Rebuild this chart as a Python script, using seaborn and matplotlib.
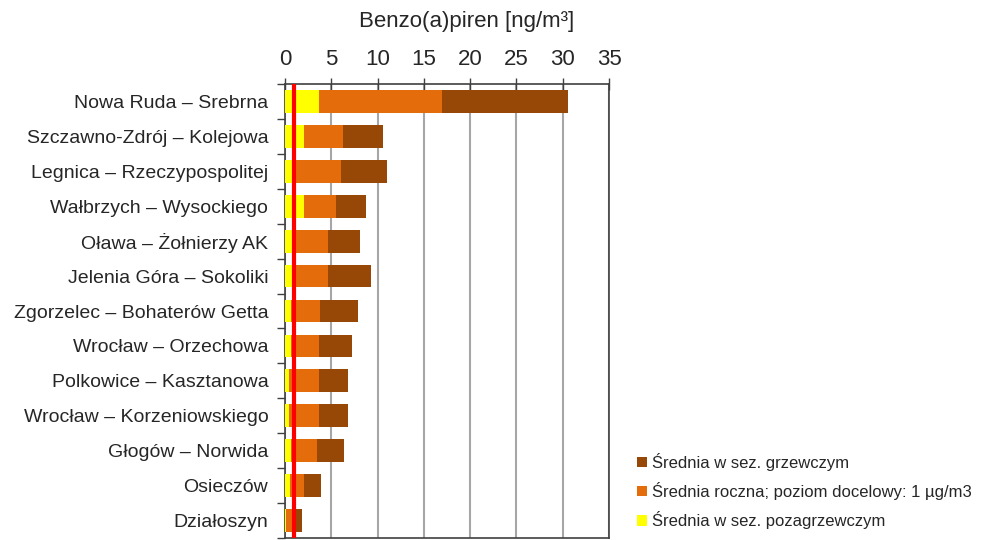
import pandas as pd
import matplotlib.pyplot as plt
import seaborn as sns
from matplotlib.ticker import FixedLocator

# Stations, od góry do dołu
stacje = ['Nowa Ruda – Srebrna', 'Szczawno-Zdrój – Kolejowa', 'Legnica – Rzeczypospolitej',
          'Wałbrzych – Wysockiego', 'Oława – Żołnierzy AK', 'Jelenia Góra – Sokoliki',
          'Zgorzelec – Bohaterów Getta', 'Wrocław – Orzechowa', 'Polkowice – Kasztanowa',
          'Wrocław – Korzeniowskiego', 'Głogów – Norwida', 'Osieczów', 'Działoszyn']
sez_grzewczy = [30.6, 10.6, 11.0, 8.8, 8.1, 9.3, 7.9, 7.2, 6.8, 6.8, 6.4, 3.9, 1.8]
roczna = [17.0, 6.3, 6.1, 5.5, 4.6, 4.6, 3.8, 3.7, 3.7, 3.7, 3.5, 2.1, 1.2]
sez_pozagrzewczy = [3.7, 2.1, 0.8, 2.1, 0.9, 0.9, 0.6, 0.6, 0.4, 0.4, 0.6, 0.5, 0.15]
poziom_docelowy = 1
x_ticks = [0, 5, 10, 15, 20, 25, 30, 35]

lbl_grz = 'Średnia w sez. grzewczym'
lbl_rocz = 'Średnia roczna; poziom docelowy: 1 µg/m3'
lbl_poza = 'Średnia w sez. pozagrzewczym'

df = pd.DataFrame({'stacja': stacje, 'grz': sez_grzewczy,
                   'rocz': roczna, 'poza': sez_pozagrzewczy})

sns.set_style('white')
plt.rcParams['font.family'] = ['Liberation Sans', 'DejaVu Sans']
plt.rcParams['text.color'] = '#262626'

fig = plt.figure(figsize=(9.84, 5.4), dpi=100)
ax = fig.add_axes([285 / 984, 1 - 538 / 540, 324 / 984, 454 / 540])

# słupki nakładane na siebie
sns.barplot(data=df, x='grz', y='stacja', color='#974806', width=0.65, saturation=1,
            linewidth=0, ax=ax, label=lbl_grz, zorder=2)
sns.barplot(data=df, x='rocz', y='stacja', color='#E46C0A', width=0.65, saturation=1,
            linewidth=0, ax=ax, label=lbl_rocz, zorder=3)
sns.barplot(data=df, x='poza', y='stacja', color='#FFFF00', width=0.65, saturation=1,
            linewidth=0, ax=ax, label=lbl_poza, zorder=4)
ax.axvline(poziom_docelowy, color='#FF0000', lw=3, zorder=5)

ax.set_xlim(0, 35)
ax.set_ylim(len(stacje) - 0.5, -0.5)
ax.set_xticks(x_ticks)
ax.xaxis.tick_top()
ax.set_xlabel('')
ax.set_ylabel('')
ax.grid(axis='x', color='#a6a6a6', lw=1.5, zorder=0)
ax.set_axisbelow(True)
ax.tick_params(axis='x', top=True, bottom=False, direction='inout', length=8,
               width=1, color='#404040', labelsize=16, pad=6, labelcolor='#262626')
ax.tick_params(axis='y', which='major', length=0, labelsize=14, pad=12, labelcolor='#262626')
ax.yaxis.set_minor_locator(FixedLocator([i + 0.5 for i in range(-1, len(stacje))]))
ax.tick_params(axis='y', which='minor', left=True, length=6, width=1, color='#404040')
for s in ax.spines.values():
    s.set_visible(True)
    s.set_color('#404040')
    s.set_linewidth(1.2)

fig.text(467 / 984, 1 - 22 / 540, 'Benzo(a)piren [ng/m³]', ha='center', va='center',
         fontsize=16, color='#262626')

h, l = ax.get_legend_handles_labels()
if ax.legend_:
    ax.legend_.remove()
fig.legend(h, l, loc='upper left', bbox_to_anchor=(630 / 984, 1 - 446 / 540),
           frameon=False, fontsize=12, handlelength=0.6, handleheight=0.6,
           handletextpad=0.3, labelspacing=0.68, borderaxespad=0)

fig.savefig('out.png', dpi=100)
